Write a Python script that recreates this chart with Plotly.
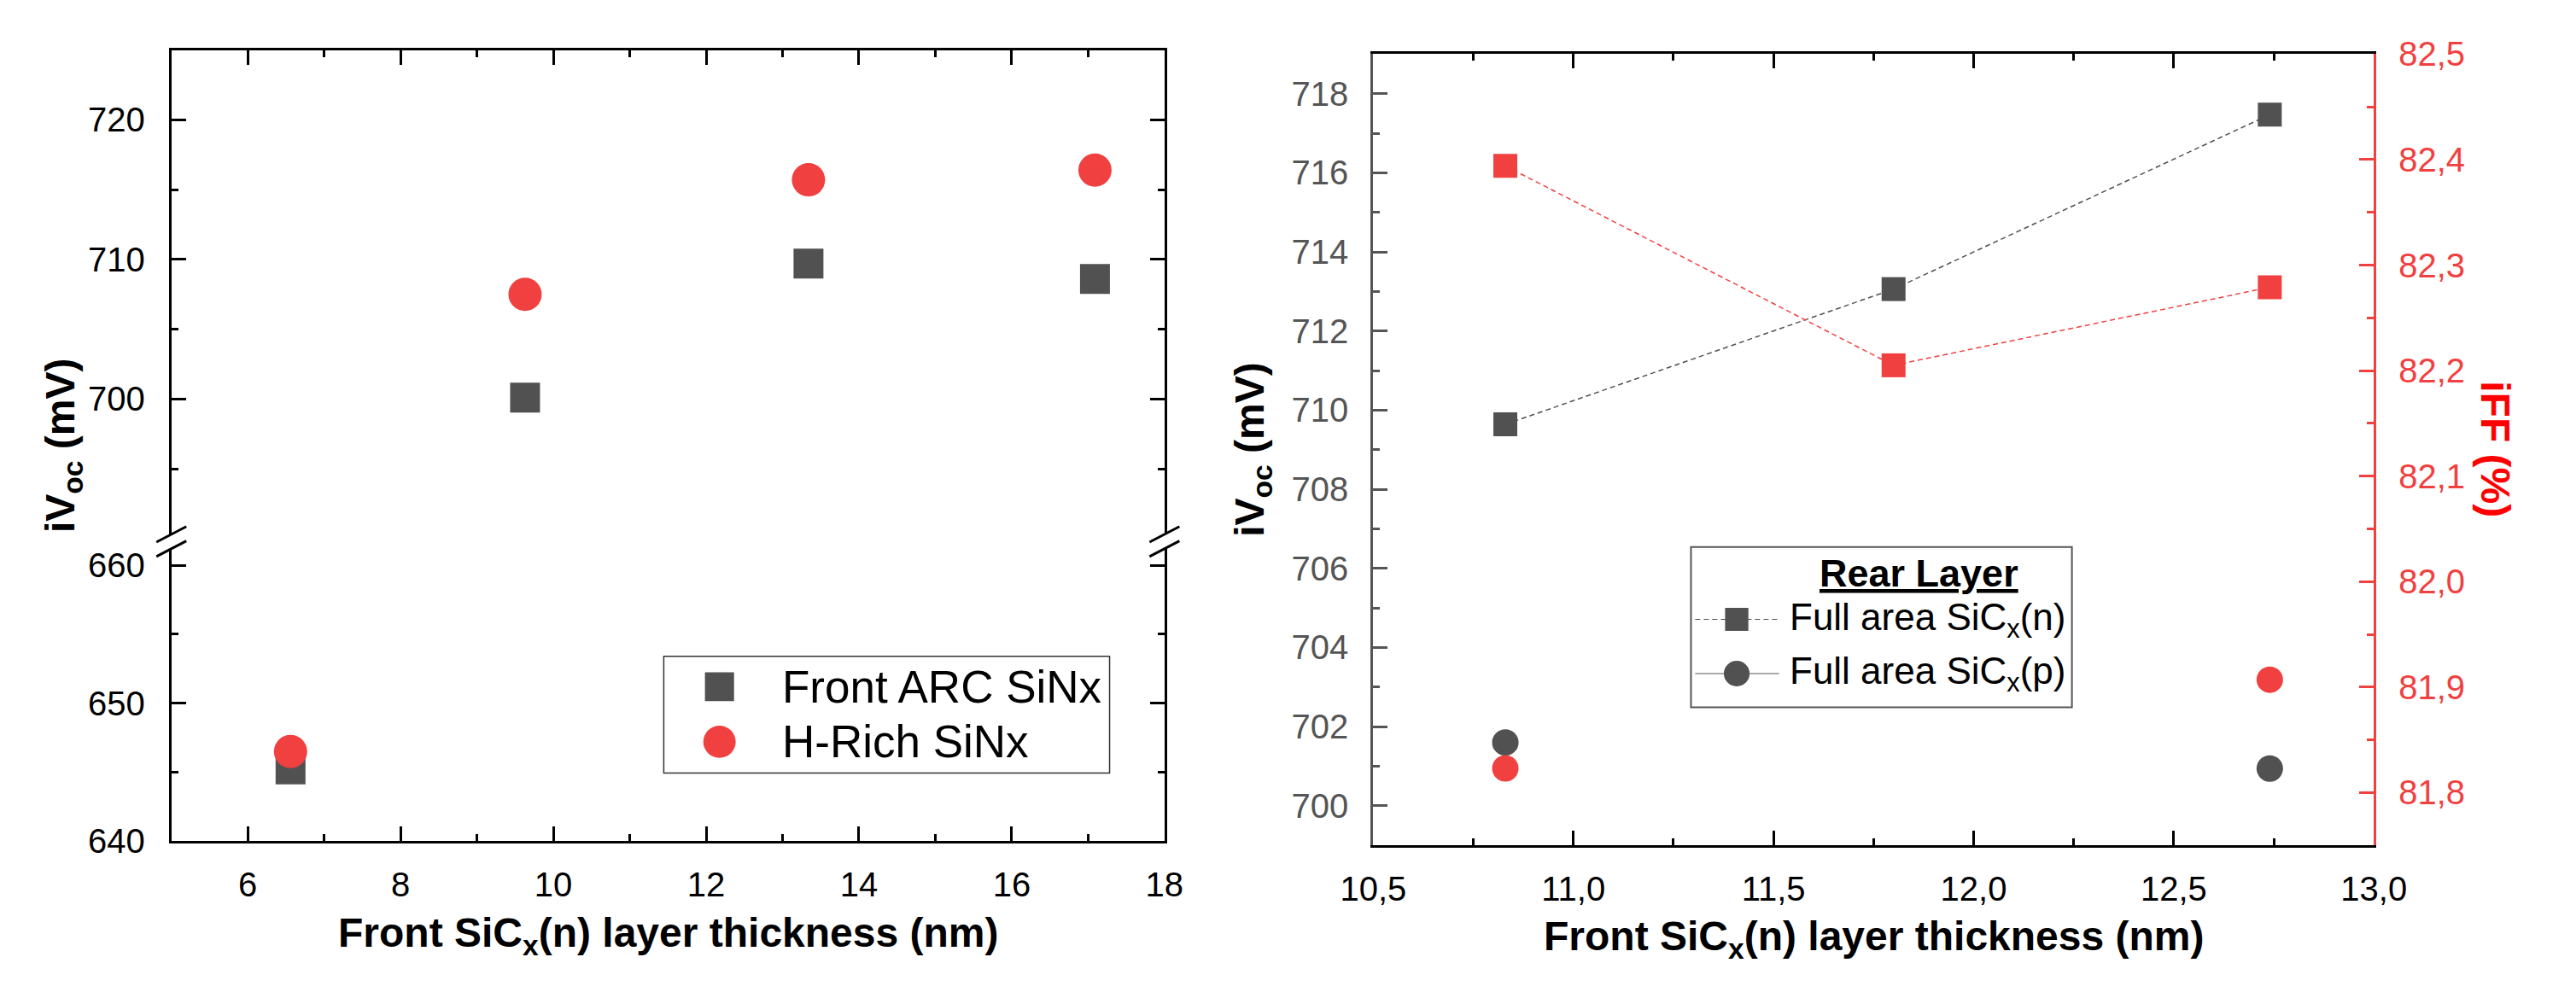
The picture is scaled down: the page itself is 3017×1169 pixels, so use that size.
import plotly.graph_objects as go

# ---------------- data ----------------
# Left panel: front ARC comparison
left_thickness = [6.56, 9.63, 13.34, 17.09]
arc_sinx_ivoc = [645.2, 700.1, 709.7, 708.6]
hrich_sinx_ivoc = [646.5, 707.5, 715.7, 716.4]

# Right panel: rear layer comparison
n_thickness = [10.83, 11.80, 12.74]
n_ivoc = [709.64, 713.06, 717.47]
n_iff = [82.394, 82.205, 82.279]
p_thickness = [10.83, 12.74]
p_ivoc = [701.6, 700.94]
p_iff = [81.823, 81.907]

left_names = ["Front ARC SiNx", "H-Rich SiNx"]
right_names = ["Full area SiC<sub>x</sub>(n)", "Full area SiC<sub>x</sub>(p)"]

# ---------------- style ----------------
W, H = 3017, 1169
FONT = "Liberation Sans, Arial, sans-serif"
DARK = "#515151"
RED = "#F14040"
GREY_AX = "#555555"


def fx(p):
    return p / W


def fy(p):
    return 1 - p / H


# panel geometry (pixels)
L_X0, L_X1, L_TOP, L_BOT = 166, 1360, 38, 1001
BRK_HI, BRK_LO = 627.5, 645
R_X0, R_X1, R_TOP, R_BOT = 1611, 2814, 43, 1006


def ax_style(color="black", fontcolor="black"):
    return dict(
        showline=True, linewidth=3, linecolor=color,
        ticks="inside", ticklen=17, tickwidth=2.5, tickcolor=color,
        showgrid=False, zeroline=False,
        tickfont=dict(size=40, color=fontcolor, family=FONT),
        minor=dict(ticks="inside", ticklen=8, tickwidth=2.5, tickcolor=color, showgrid=False),
    )


fig = go.Figure()

# ----- left panel traces (drawn in both break segments) -----
for xa, ya in (("x", "y"), ("x2", "y2")):
    fig.add_trace(go.Scatter(
        x=left_thickness, y=arc_sinx_ivoc, mode="markers", name=left_names[0],
        marker=dict(symbol="square", size=35, color=DARK, line=dict(width=0)),
        xaxis=xa, yaxis=ya, showlegend=False))
    fig.add_trace(go.Scatter(
        x=left_thickness, y=hrich_sinx_ivoc, mode="markers", name=left_names[1],
        marker=dict(symbol="circle", size=39, color=RED, line=dict(width=0)),
        xaxis=xa, yaxis=ya, showlegend=False))

# ----- right panel traces -----
fig.add_trace(go.Scatter(
    x=n_thickness, y=n_ivoc, mode="lines+markers", name=right_names[0],
    line=dict(color=DARK, width=1.5, dash="6px,4px"),
    marker=dict(symbol="square", size=28, color=DARK, line=dict(width=0)),
    xaxis="x3", yaxis="y3", showlegend=False))
fig.add_trace(go.Scatter(
    x=p_thickness, y=p_ivoc, mode="markers", name=right_names[1],
    marker=dict(symbol="circle", size=31, color=DARK, line=dict(width=0)),
    xaxis="x3", yaxis="y3", showlegend=False))
fig.add_trace(go.Scatter(
    x=n_thickness, y=n_iff, mode="lines+markers", name=right_names[0] + " iFF",
    line=dict(color=RED, width=1.5, dash="6px,4px"),
    marker=dict(symbol="square", size=28, color=RED, line=dict(width=0)),
    xaxis="x3", yaxis="y4", showlegend=False))
fig.add_trace(go.Scatter(
    x=p_thickness, y=p_iff, mode="markers", name=right_names[1] + " iFF",
    marker=dict(symbol="circle", size=31, color=RED, line=dict(width=0)),
    xaxis="x3", yaxis="y4", showlegend=False))

# ----- axes -----
layout = dict(
    width=W, height=H, margin=dict(l=0, r=0, t=0, b=0),
    paper_bgcolor="white", plot_bgcolor="white",
    separators=",.", showlegend=False,
    font=dict(family=FONT, color="black"),
)

xa = ax_style()
xa.update(domain=[fx(L_X0), fx(L_X1)], anchor="y", range=[5, 18], dtick=2, tick0=0,
          ticklabelstandoff=14)
xa["minor"].update(dtick=1)
layout["xaxis"] = xa

xa2 = ax_style()
xa2.update(domain=[fx(L_X0), fx(L_X1)], anchor="y2", matches="x", side="top",
           showticklabels=False, range=[5, 18], dtick=2, tick0=0)
xa2["minor"].update(dtick=1)
layout["xaxis2"] = xa2

ya = ax_style()
ya.update(domain=[fy(L_BOT), fy(BRK_LO)], anchor="x", range=[640, 661.2], dtick=10, tick0=0,
          mirror="ticks", ticklabelstandoff=20)
ya["minor"].update(dtick=5)
layout["yaxis"] = ya

ya2 = ax_style()
ya2.update(domain=[fy(BRK_HI), fy(L_TOP)], anchor="x2", range=[690.3, 725], dtick=10, tick0=0,
           mirror="ticks", ticklabelstandoff=20)
ya2["minor"].update(dtick=5)
layout["yaxis2"] = ya2

xa3 = ax_style()
xa3.update(domain=[fx(R_X0), fx(R_X1)], anchor="y3", range=[10.5, 13.0], dtick=0.5, tick0=0,
           tickformat=".1f", mirror="ticks", ticklabelstandoff=14)
xa3["minor"].update(dtick=0.25)
layout["xaxis3"] = xa3

ya3 = ax_style(color=GREY_AX, fontcolor=GREY_AX)
ya3.update(domain=[fy(R_BOT), fy(R_TOP)], anchor="x3", range=[699, 719], dtick=2, tick0=0,
           ticklabelstandoff=18)
ya3["minor"].update(dtick=1)
layout["yaxis3"] = ya3

ya4 = ax_style(color=RED, fontcolor=RED)
ya4.update(overlaying="y3", side="right", anchor="x3", range=[81.75, 82.5], dtick=0.1, tick0=0,
           tickformat=".1f", ticklabelstandoff=18)
ya4["minor"].update(dtick=0.05)
layout["yaxis4"] = ya4

fig.update_layout(**layout)

# ----- axis titles -----
TITLE_FONT = dict(size=48, family=FONT, color="black")
xtitle = "<b>Front SiC<sub>x</sub>(n) layer thickness (nm)</b>"
ytitle = "<b>iV<sub>oc</sub> (mV)</b>"
ann = [
    dict(text=xtitle, x=fx((L_X0 + L_X1) / 2), y=fy(1116), xanchor="center", yanchor="middle",
         font=TITLE_FONT),
    dict(text=xtitle, x=fx((R_X0 + R_X1) / 2), y=fy(1120), xanchor="center", yanchor="middle",
         font=TITLE_FONT),
    dict(text=ytitle, x=fx(36), y=fy((L_TOP + L_BOT) / 2), xanchor="center", yanchor="middle",
         textangle=-90, font=TITLE_FONT),
    dict(text=ytitle, x=fx(1466), y=fy((R_TOP + R_BOT) / 2), xanchor="center", yanchor="middle",
         textangle=-90, font=TITLE_FONT),
    dict(text="<b>iFF (%)</b>", x=fx(2960), y=fy((R_TOP + R_BOT) / 2), xanchor="center",
         yanchor="middle", textangle=90, font=dict(size=48, family=FONT, color="#FF0000")),
]

shapes = []
# ----- axis break marks -----
for xc in (L_X0, L_X1):
    for yc in (BRK_HI, BRK_LO):
        shapes.append(dict(type="line", xref="paper", yref="paper",
                           x0=fx(xc - 18), y0=fy(yc + 9.5), x1=fx(xc + 18), y1=fy(yc - 9.5),
                           line=dict(color="black", width=3)))

# ----- left legend (drawn manually to keep the large symbols) -----
LG = dict(x0=758, x1=1294, y0=776, y1=918)
shapes.append(dict(type="rect", xref="paper", yref="paper", x0=fx(LG["x0"]), x1=fx(LG["x1"]),
                   y0=fy(LG["y1"]), y1=fy(LG["y0"]), line=dict(color="#333333", width=1.5),
                   fillcolor="white", layer="above"))
shapes.append(dict(type="rect", xref="paper", yref="paper", x0=fx(825 - 17.5), x1=fx(825 + 17.5),
                   y0=fy(813 + 17.5), y1=fy(813 - 17.5), line=dict(width=0), fillcolor=DARK,
                   layer="above"))
shapes.append(dict(type="circle", xref="paper", yref="paper", x0=fx(825 - 19.5), x1=fx(825 + 19.5),
                   y0=fy(880 + 19.5), y1=fy(880 - 19.5), line=dict(width=0), fillcolor=RED,
                   layer="above"))
LEGFONT = dict(size=53, family=FONT, color="black")
ann.append(dict(text=left_names[0], x=fx(898), y=fy(813), xanchor="left", yanchor="middle",
                font=LEGFONT))
ann.append(dict(text=left_names[1], x=fx(898), y=fy(880), xanchor="left", yanchor="middle",
                font=LEGFONT))

# ----- right legend -----
RG = dict(x0=1993, x1=2451, y0=643, y1=838)
shapes.append(dict(type="rect", xref="paper", yref="paper", x0=fx(RG["x0"]), x1=fx(RG["x1"]),
                   y0=fy(RG["y1"]), y1=fy(RG["y0"]), line=dict(color="#555555", width=2),
                   fillcolor="white", layer="above"))
for yc, dash in ((731, "6px,4px"), (797, "solid")):
    shapes.append(dict(type="line", xref="paper", yref="paper", x0=fx(1998), x1=fx(2099),
                       y0=fy(yc), y1=fy(yc), line=dict(color="#555555", width=1, dash=dash),
                       layer="above"))
shapes.append(dict(type="rect", xref="paper", yref="paper", x0=fx(2048 - 14), x1=fx(2048 + 14),
                   y0=fy(731 + 14), y1=fy(731 - 14), line=dict(width=0), fillcolor=DARK,
                   layer="above"))
shapes.append(dict(type="circle", xref="paper", yref="paper", x0=fx(2048 - 15.5), x1=fx(2048 + 15.5),
                   y0=fy(797 + 15.5), y1=fy(797 - 15.5), line=dict(width=0), fillcolor=DARK,
                   layer="above"))
RLEGFONT = dict(size=44, family=FONT, color="black")
ann.append(dict(text="<b><u>Rear Layer</u></b>", x=fx(2267), y=fy(675), xanchor="center",
                yanchor="middle", font=dict(size=45, family=FONT, color="black")))
ann.append(dict(text=right_names[0], x=fx(2110), y=fy(732), xanchor="left", yanchor="middle",
                font=RLEGFONT))
ann.append(dict(text=right_names[1], x=fx(2110), y=fy(797), xanchor="left", yanchor="middle",
                font=RLEGFONT))

for a in ann:
    a.setdefault("xref", "paper")
    a.setdefault("yref", "paper")
    a.setdefault("showarrow", False)

fig.update_layout(annotations=ann, shapes=shapes)

fig.write_html("out.html", include_plotlyjs=True, full_html=True,
               config={"displayModeBar": False},
               post_script="document.body.style.margin='0px';document.body.style.overflow='hidden';")
